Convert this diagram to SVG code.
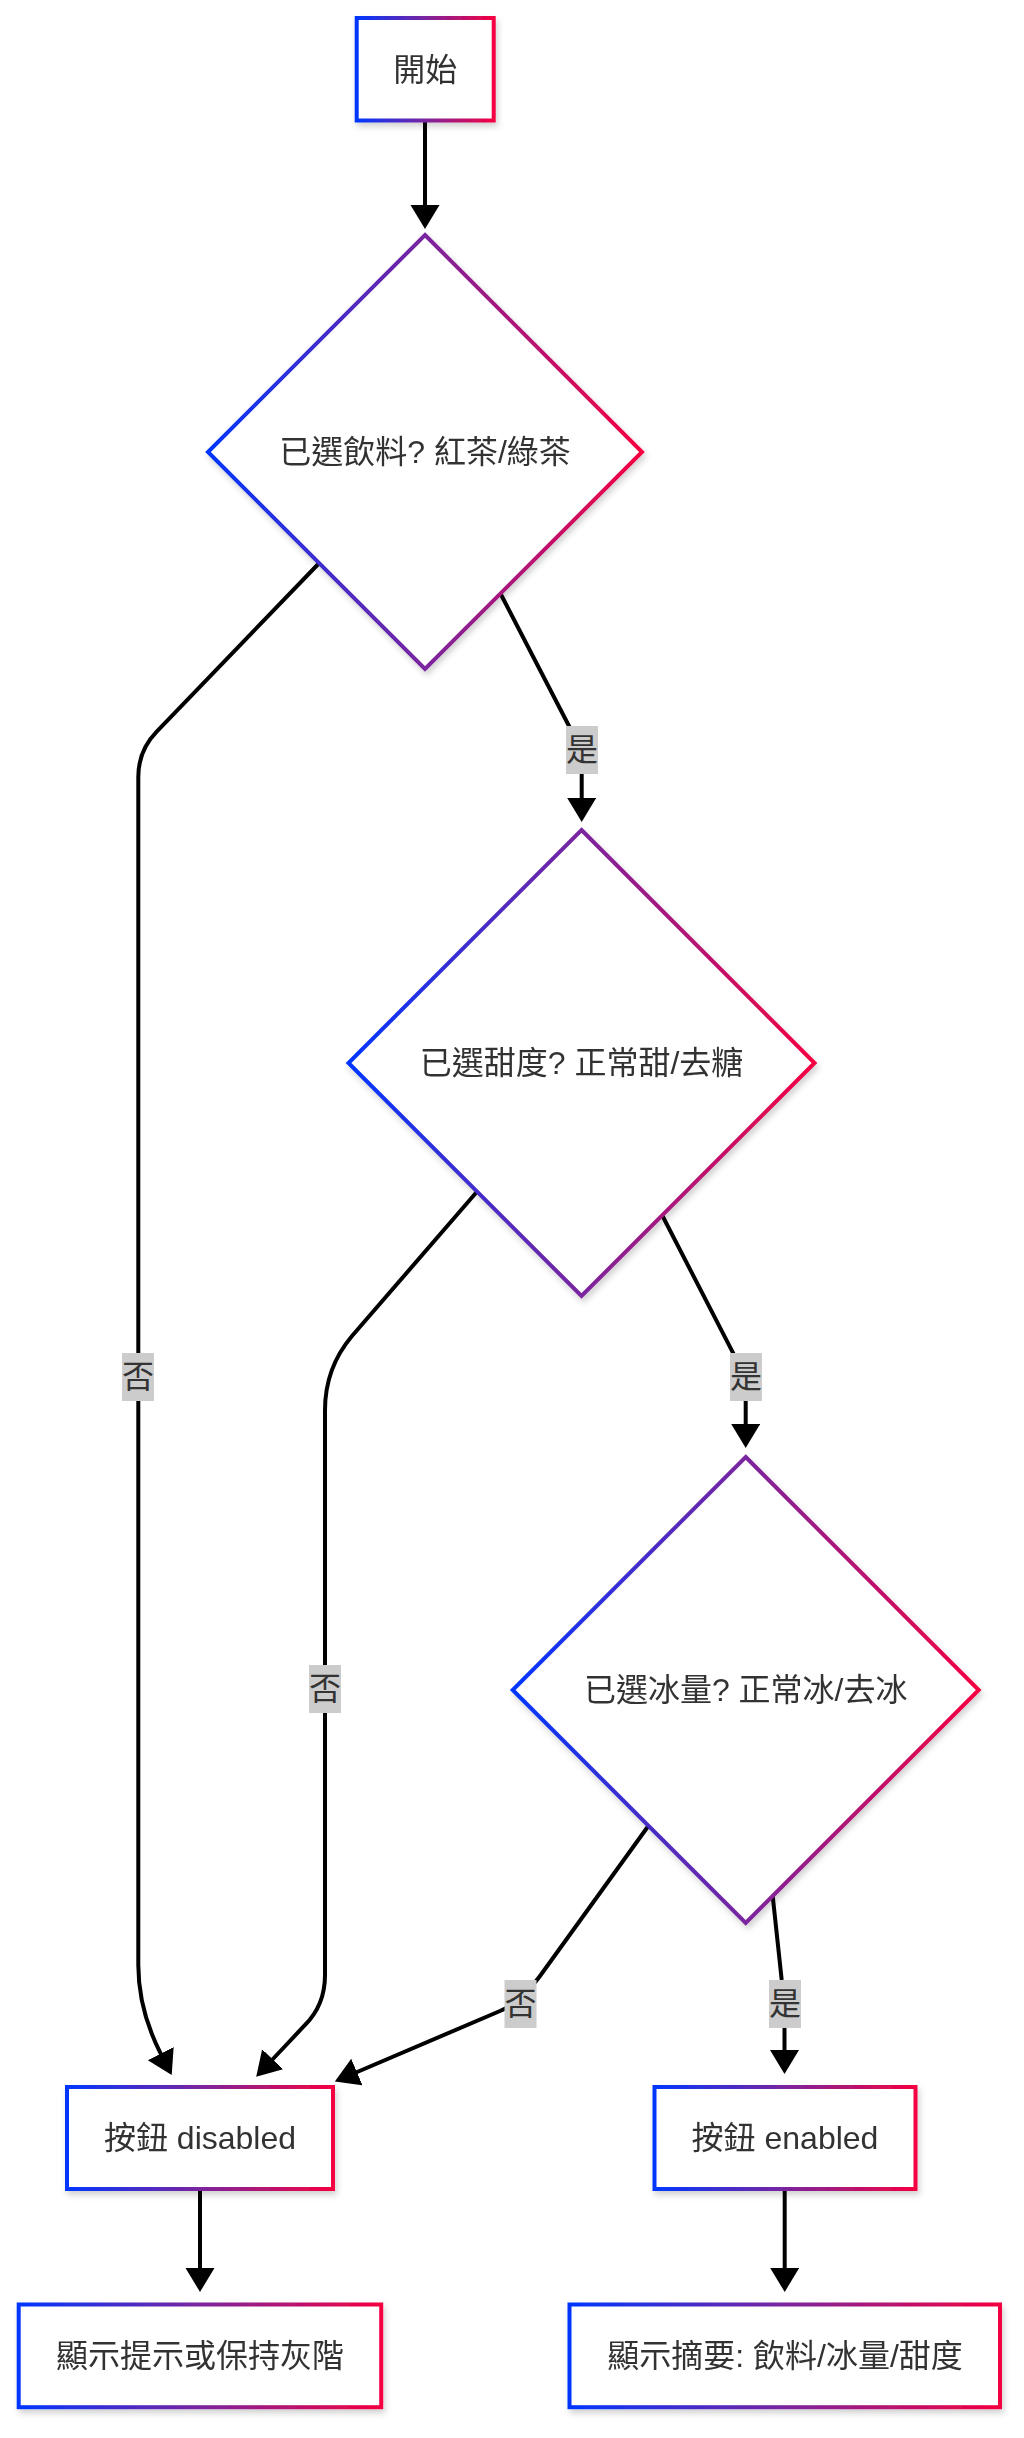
<svg xmlns="http://www.w3.org/2000/svg" width="1024" height="2438" viewBox="0 0 1024 2438">
<style>
.node-shape{fill:#ffffff;stroke:url(#grad);stroke-width:4}
.node-text{font-family:"Liberation Sans","Noto Sans CJK TC",sans-serif;font-size:32px;fill:#333333;text-anchor:middle;dominant-baseline:central}
.edge{fill:none;stroke:#000000;stroke-width:4}
.label-bg{fill:#cccccc}
.label-text{font-family:"Liberation Sans","Noto Sans CJK TC",sans-serif;font-size:32px;fill:#333333;text-anchor:middle;dominant-baseline:central}
</style>
<defs>
<linearGradient id="grad" x1="0" y1="0" x2="1" y2="0">
<stop offset="0" stop-color="#0036ff"/>
<stop offset="0.5" stop-color="#7a259f"/>
<stop offset="1" stop-color="#f50041"/>
</linearGradient>
<filter id="shadow" x="-10%" y="-10%" width="120%" height="130%">
<feDropShadow dx="2" dy="4" stdDeviation="3" flood-color="#000000" flood-opacity="0.18"/>
</filter>
<marker id="arrow" markerUnits="userSpaceOnUse" markerWidth="30" markerHeight="30" refX="1" refY="14.5" orient="auto">
<path d="M0,0 L24,14.5 L0,29 z" fill="#000000"/>
</marker>
</defs>

<g id="edges">
<path class="edge" d="M425,121 L425,206" marker-end="url(#arrow)"/>
<path class="edge" d="M500.7,594 L569,726 Q581.7,750 581.7,774 L581.7,799" marker-end="url(#arrow)"/>
<path class="edge" d="M318.3,564 L156.7,731.7 Q138.3,750.5 138.3,777 L138.3,1965 Q138.3,2010 161.2,2054.6" marker-end="url(#arrow)"/>
<path class="edge" d="M662.3,1215.5 L733.3,1353.3 Q745.7,1377 745.7,1401 L745.7,1425" marker-end="url(#arrow)"/>
<path class="edge" d="M476.7,1192 L352,1336 Q325,1368 325,1410 L325,1975 Q325,2005 305,2025 L272,2060" marker-end="url(#arrow)"/>
<path class="edge" d="M648.3,1826 L540,1976 Q522,2001 500,2011 L356,2072.5" marker-end="url(#arrow)"/>
<path class="edge" d="M772.7,1896 L781.7,1980 Q784.5,2000 784.5,2028 L784.5,2051" marker-end="url(#arrow)"/>
<path class="edge" d="M200,2190 L200,2269" marker-end="url(#arrow)"/>
<path class="edge" d="M784.7,2190 L784.7,2269" marker-end="url(#arrow)"/>
</g>

<g id="edge-labels">
<g id="label-yes-1"><rect class="label-bg" x="566" y="726" width="32" height="48"/><text class="label-text" x="582" y="750">是</text></g>
<g id="label-no-1"><rect class="label-bg" x="122" y="1353" width="32" height="48"/><text class="label-text" x="138" y="1377">否</text></g>
<g id="label-yes-2"><rect class="label-bg" x="730" y="1353" width="32" height="48"/><text class="label-text" x="746" y="1377">是</text></g>
<g id="label-no-2"><rect class="label-bg" x="309" y="1665" width="32" height="48"/><text class="label-text" x="325" y="1689">否</text></g>
<g id="label-no-3"><rect class="label-bg" x="504.5" y="1980" width="32" height="48"/><text class="label-text" x="520.5" y="2004">否</text></g>
<g id="label-yes-3"><rect class="label-bg" x="769" y="1980" width="32" height="48"/><text class="label-text" x="785" y="2004">是</text></g>
</g>

<g id="node-start" filter="url(#shadow)">
<rect class="node-shape" x="356.7" y="18" width="137" height="102.5"/>
<text class="node-text" x="425.2" y="69.5">開始</text>
</g>

<g id="node-drink" filter="url(#shadow)">
<polygon class="node-shape" points="425,235 642,452 425,669 208,452"/>
<text class="node-text" x="425" y="452">已選飲料? 紅茶/綠茶</text>
</g>

<g id="node-sweet" filter="url(#shadow)">
<polygon class="node-shape" points="581.5,830 814.5,1063 581.5,1296 348.5,1063"/>
<text class="node-text" x="581.5" y="1063">已選甜度? 正常甜/去糖</text>
</g>

<g id="node-ice" filter="url(#shadow)">
<polygon class="node-shape" points="745.7,1457 978.7,1690 745.7,1923 512.7,1690"/>
<text class="node-text" x="745.7" y="1690">已選冰量? 正常冰/去冰</text>
</g>

<g id="node-disabled" filter="url(#shadow)">
<rect class="node-shape" x="67" y="2087" width="266" height="102"/>
<text class="node-text" x="200" y="2138">按鈕 disabled</text>
</g>

<g id="node-enabled" filter="url(#shadow)">
<rect class="node-shape" x="654.5" y="2087" width="261" height="102"/>
<text class="node-text" x="785" y="2138">按鈕 enabled</text>
</g>

<g id="node-hint" filter="url(#shadow)">
<rect class="node-shape" x="18.7" y="2304.5" width="362.5" height="102.7"/>
<text class="node-text" x="200" y="2356">顯示提示或保持灰階</text>
</g>

<g id="node-summary" filter="url(#shadow)">
<rect class="node-shape" x="569.5" y="2304.5" width="430.5" height="102.7"/>
<text class="node-text" x="785" y="2356">顯示摘要: 飲料/冰量/甜度</text>
</g>
</svg>
